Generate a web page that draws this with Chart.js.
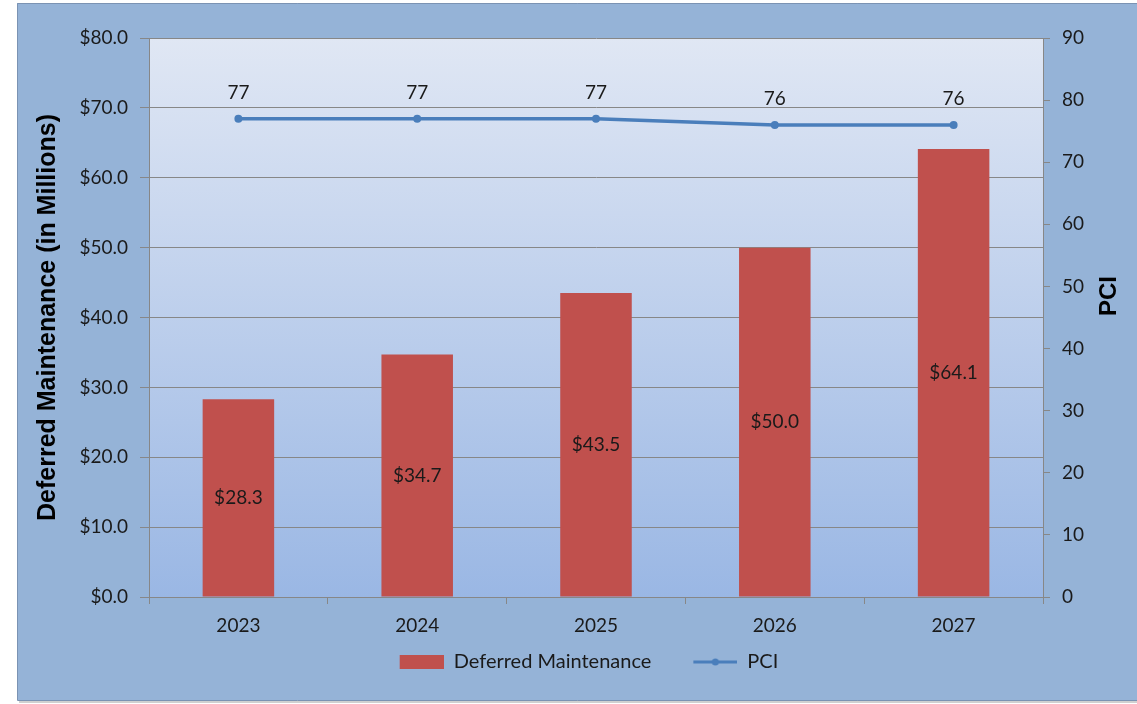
<!DOCTYPE html>
<html>
<head>
<meta charset="utf-8">
<script src="https://cdn.jsdelivr.net/npm/chart.js@4/dist/chart.umd.min.js"></script>
<style>
  html, body { margin: 0; padding: 0; background: #ffffff; }
  #c { display: block; }
</style>
</head>
<body>
<canvas id="c" width="1137" height="704"></canvas>
<script>
// ---- data ----
const categories = ['2023', '2024', '2025', '2026', '2027'];
const deferredMaintenance = [28.3, 34.7, 43.5, 50.0, 64.1];
const pciValues = [77, 77, 77, 76, 76];
const seriesNames = ['Deferred Maintenance', 'PCI'];
const leftAxisTitle = 'Deferred Maintenance (in Millions)';
const rightAxisTitle = 'PCI';

// ---- styles ----
const BAR_COLOR = '#C0504D';
const LINE_COLOR = '#4A7EBB';
const GRID_COLOR = '#878787';
const TEXT_COLOR = '#1a1a1a';
const PANEL_COLOR = '#95B3D7';
const FONT = 'Lato, "Open Sans", sans-serif';
const ICON_GAP = 32;

function makeIcon(kind) {
  const cv = document.createElement('canvas');
  cv.width = 44 + ICON_GAP; cv.height = 14;
  const g = cv.getContext('2d');
  const x0 = ICON_GAP;
  if (kind === 'bar') {
    g.fillStyle = BAR_COLOR;
    g.fillRect(x0, 0, 44, 14);
  } else {
    g.strokeStyle = LINE_COLOR;
    g.lineWidth = 3;
    g.beginPath(); g.moveTo(x0, 7); g.lineTo(x0 + 44, 7); g.stroke();
    g.fillStyle = LINE_COLOR;
    g.beginPath(); g.arc(x0 + 22, 7, 3.5, 0, Math.PI * 2); g.fill();
  }
  return cv;
}
const icons = [makeIcon('bar'), makeIcon('line')];

const backgroundPlugin = {
  id: 'bgPanel',
  beforeDraw(chart) {
    const ctx = chart.ctx;
    const a = chart.chartArea;
    ctx.save();
    ctx.fillStyle = '#ffffff';
    ctx.fillRect(0, 0, chart.width, chart.height);
    ctx.fillStyle = 'rgba(120,120,120,0.35)';
    ctx.fillRect(19, 700, chart.width - 19, 3);
    ctx.fillStyle = PANEL_COLOR;
    ctx.fillRect(17, 3, chart.width - 17, 697);
    ctx.strokeStyle = '#7b93b3';
    ctx.lineWidth = 1;
    ctx.beginPath();
    ctx.moveTo(17.5, 700.5); ctx.lineTo(17.5, 3.5); ctx.lineTo(chart.width, 3.5);
    ctx.moveTo(17.5, 700.5); ctx.lineTo(chart.width, 700.5);
    ctx.stroke();
    const grad = ctx.createLinearGradient(0, a.top, 0, a.bottom);
    grad.addColorStop(0, '#E0E7F4');
    grad.addColorStop(1, '#9AB7E4');
    ctx.fillStyle = grad;
    ctx.fillRect(a.left, a.top, a.right - a.left, a.bottom - a.top);
    ctx.restore();
  }
};

const labelPlugin = {
  id: 'valueLabels',
  afterDatasetsDraw(chart) {
    const ctx = chart.ctx;
    ctx.save();
    ctx.font = '19px ' + FONT;
    ctx.fillStyle = TEXT_COLOR;
    ctx.textAlign = 'center';
    ctx.textBaseline = 'middle';
    const barMeta = chart.getDatasetMeta(0);
    barMeta.data.forEach((el, i) => {
      const v = chart.data.datasets[0].data[i];
      ctx.fillText('$' + v.toFixed(1), el.x, (el.y + el.base) / 2);
    });
    const lineMeta = chart.getDatasetMeta(1);
    lineMeta.data.forEach((el, i) => {
      const v = chart.data.datasets[1].data[i];
      ctx.fillText(String(v), el.x, el.y - 26);
    });
    // right axis title, reading bottom-to-top
    ctx.font = 'bold 24px "Liberation Sans", Arial, sans-serif';
    ctx.fillStyle = '#000000';
    ctx.translate(1109, 296);
    ctx.rotate(-Math.PI / 2);
    ctx.fillText(rightAxisTitle, 0, 0);
    ctx.restore();
  }
};

const ctx = document.getElementById('c').getContext('2d');
new Chart(ctx, {
  data: {
    labels: categories,
    datasets: [
      {
        type: 'bar',
        label: seriesNames[0],
        data: deferredMaintenance,
        backgroundColor: BAR_COLOR,
        borderWidth: 0,
        yAxisID: 'y',
        barPercentage: 0.4,
        categoryPercentage: 1.0,
        order: 2
      },
      {
        type: 'line',
        label: seriesNames[1],
        data: pciValues,
        borderColor: LINE_COLOR,
        backgroundColor: LINE_COLOR,
        borderWidth: 3.5,
        pointRadius: 4,
        pointBackgroundColor: LINE_COLOR,
        pointBorderWidth: 0,
        tension: 0,
        yAxisID: 'y1',
        order: 1
      }
    ]
  },
  options: {
    responsive: false,
    animation: false,
    devicePixelRatio: 1,
    layout: { padding: { left: 9, right: 0, top: 38, bottom: 22 } },
    plugins: {
      tooltip: { enabled: false },
      title: { display: false },
      legend: {
        position: 'bottom',
        labels: {
          usePointStyle: true,
          pointStyleWidth: 44 + ICON_GAP,
          boxHeight: 14,
          padding: 10,
          color: TEXT_COLOR,
          font: { family: FONT, size: 20 },
          generateLabels(chart) {
            return chart.data.datasets.map((ds, i) => ({
              text: ds.label,
              pointStyle: icons[i],
              fillStyle: i === 0 ? BAR_COLOR : LINE_COLOR,
              strokeStyle: i === 0 ? BAR_COLOR : LINE_COLOR,
              lineWidth: 0,
              hidden: false,
              datasetIndex: i,
              fontColor: TEXT_COLOR
            }));
          }
        }
      }
    },
    scales: {
      x: {
        type: 'category',
        offset: true,
        grid: {
          offset: true,
          drawOnChartArea: false,
          color: GRID_COLOR,
          tickLength: 7
        },
        border: { color: GRID_COLOR, width: 1 },
        ticks: { color: TEXT_COLOR, font: { family: FONT, size: 19 }, padding: 10, maxRotation: 0, autoSkip: false },
        afterFit(s) { s.height = 45; }
      },
      y: {
        type: 'linear',
        position: 'left',
        min: 0,
        max: 80,
        ticks: {
          stepSize: 10,
          color: TEXT_COLOR,
          font: { family: FONT, size: 19 },
          padding: 12,
          callback: (v) => '$' + Number(v).toFixed(1)
        },
        grid: { color: GRID_COLOR, tickLength: 9, lineWidth: 1 },
        border: { color: GRID_COLOR, width: 1 },
        title: {
          display: true,
          text: leftAxisTitle,
          color: '#000000',
          font: { family: '"Liberation Sans", Arial, sans-serif', size: 25, weight: 'bold', lineHeight: 1.2 },
          padding: { top: 24, bottom: 0 }
        },
        afterFit(s) { s.width = 140; }
      },
      y1: {
        type: 'linear',
        position: 'right',
        min: 0,
        max: 90,
        ticks: {
          stepSize: 10,
          color: TEXT_COLOR,
          font: { family: FONT, size: 19 },
          padding: 12
        },
        grid: { drawOnChartArea: false, color: GRID_COLOR, tickLength: 7 },
        border: { color: GRID_COLOR, width: 1 },
        afterFit(s) { s.width = 94; }
      }
    }
  },
  plugins: [backgroundPlugin, labelPlugin]
});
</script>
</body>
</html>
